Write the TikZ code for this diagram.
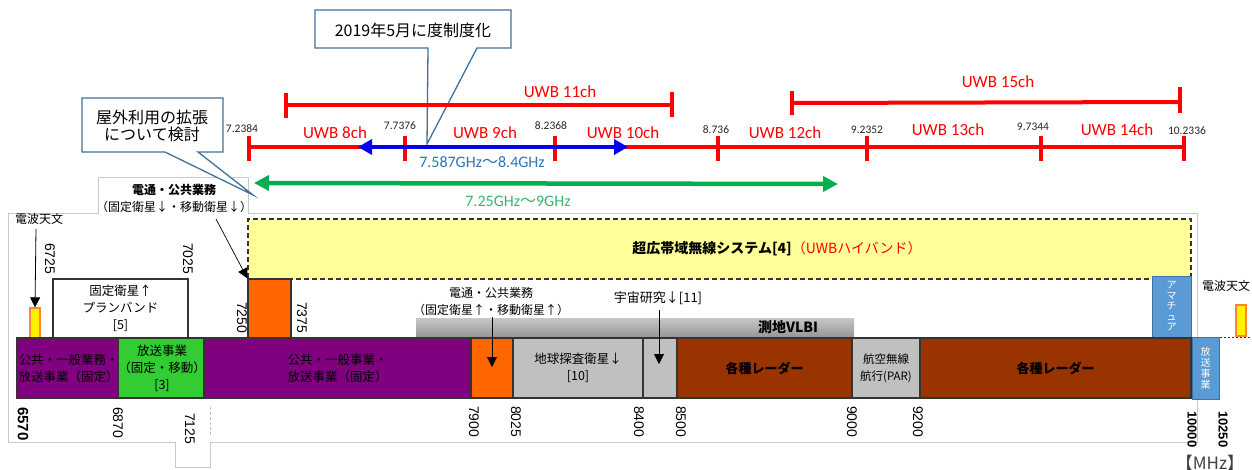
\documentclass[tikz,border=0pt]{standalone}
\usepackage{fontspec}
\setmainfont{Noto Sans CJK JP}
\newfontfamily\calfont{Carlito}
\newfontfamily\arialfont{Liberation Sans}
\usetikzlibrary{arrows.meta}
\newcommand\fsz[2]{\fontsize{#1pt}{#2pt}\selectfont}
\definecolor{ppl}{HTML}{800080}
\definecolor{grn}{HTML}{33CC33}
\definecolor{org}{HTML}{FF6600}
\definecolor{lgry}{HTML}{C0C0C0}
\definecolor{brn}{HTML}{993300}
\definecolor{bblue}{HTML}{5B9BD5}
\definecolor{bbord}{HTML}{41719C}
\definecolor{ylw}{HTML}{FFFF99}
\definecolor{cblue}{HTML}{41719C}
\definecolor{arrgreen}{HTML}{00B050}
\definecolor{txtgreen}{HTML}{3CB371}
\definecolor{txtblue}{HTML}{2E75B6}
\definecolor{arrblue}{HTML}{0000F0}
\definecolor{ured}{HTML}{FF0000}
\definecolor{frm}{HTML}{C8C8C8}
\begin{document}
\begin{tikzpicture}[x=1pt,y=-1pt,
  redline/.style={draw=ured, line width=4pt},
  redtick/.style={draw=ured, line width=3.5pt},
  uwb/.style={text=ured, font=\calfont\fsz{17}{20}, inner sep=0pt},
  freq/.style={text=black!85, font=\calfont\fsz{11.5}{13}, inner sep=0pt},
  bandbox/.style={draw=black!80, line width=1.2pt, minimum height=60pt, inner sep=0pt, align=center, font=\fsz{12.5}{17}},
  upbox/.style={draw=black!80, line width=1.2pt, inner sep=0pt, align=center},
  numlab/.style={font=\arialfont\fsz{14}{16}, rotate=-90, anchor=west, inner sep=0pt},
  bnumlab/.style={font=\arialfont\bfseries\fsz{15}{17}, rotate=-90, anchor=west, inner sep=0pt},
  calloutbox/.style={draw=cblue, line width=1.3pt, fill=white, line join=miter},
  ptarrow/.style={draw=black, line width=0.8pt, -{Triangle[length=10pt,width=10pt]}},
  framelinestyle/.style={draw=frm, line width=0.9pt},
  plain/.style={inner sep=0pt, align=center}
]
\useasboundingbox (0,0) rectangle (1252,470);
\fill[white] (0,0) rectangle (1252,470);

% light frame of the original picture
\draw[framelinestyle] (8,442) -- (8,213) -- (98,213) -- (98,177) -- (248,177) -- (248,213) -- (1197,213) -- (1197,442) -- (210,442) -- (210,467) -- (175,467) -- (175,442) -- cycle;

% ---------- callouts ----------
\draw[calloutbox] (428,48) -- (315,48) -- (315,10) -- (511,10) -- (511,48) -- (477,48) -- (427,144) -- cycle;
\node[plain, font=\fsz{16}{18}] (c1) at (413,30) {2019年5月に度制度化};
\draw[calloutbox] (165,152) -- (82,152) -- (82,98) -- (223,98) -- (223,152) -- (198,152) -- (253,195) -- cycle;
\node[plain, font=\fsz{16}{17.5}] (c2) at (152,126) {屋外利用の拡張\\について検討};

% ---------- UWB row 1 ----------
\coordinate (a1) at (286,105);
\coordinate (a2) at (672,105);
\draw[redline] (a1) -- (a2);
\draw[redtick] (a1) ++(0,-12) -- ++(0,25);
\draw[redtick] (a2) ++(0,-13) -- ++(0,25);
\node[uwb] (u11) at (560,92) {UWB 11ch};
\coordinate (a3) at (792,103);
\coordinate (a4) at (1180,102);
\draw[redline] (a3) -- (a4);
\draw[redtick] (a3) ++(0,-12) -- ++(0,24);
\draw[redtick] (a4) ++(0,-15) -- ++(0,26);
\node[uwb] (u15) at (998,82) {UWB 15ch};

% ---------- UWB row 2 ----------
\coordinate (t1) at (249,147);
\coordinate (t2) at (405,147);
\coordinate (t3) at (555,147);
\coordinate (t4) at (718,147);
\coordinate (t5) at (867,147);
\coordinate (t6) at (1041,147);
\coordinate (t7) at (1184,147);
\draw[redline] (t1) -- (t7);
\foreach \t in {t1,t2,t3,t4,t5,t6,t7} {\draw[redtick] (\t) ++(0,-11) -- ++(0,25);}
\node[freq] (f1) at (242,129) {7.2384};
\node[freq] (f2) at (400,126) {7.7376};
\node[freq] (f3) at (551,126) {8.2368};
\node[freq] (f4) at (716,130) {8.736};
\node[freq] (f5) at (867,130) {9.2352};
\node[freq] (f6) at (1033,127) {9.7344};
\node[freq] (f7) at (1187,131) {10.2336};
\node[uwb] (u8) at (335,133) {UWB 8ch};
\node[uwb] (u9) at (485,133) {UWB 9ch};
\node[uwb] (u10) at (623,133) {UWB 10ch};
\node[uwb] (u12) at (785,133) {UWB 12ch};
\node[uwb] (u13) at (948,130) {UWB 13ch};
\node[uwb] (u14) at (1117,130) {UWB 14ch};

% blue arrow
\coordinate (bl1) at (358,147);
\coordinate (bl2) at (628,147);
\draw[draw=arrblue, line width=4pt, {Triangle[length=14pt,width=15pt]}-{Triangle[length=14pt,width=15pt]}] (bl1) -- (bl2);
\node[plain, text=txtblue, font=\fsz{16}{18}] (bt) at (482,162) {{\calfont 7.587GHz}～{\calfont 8.4GHz}};

% green arrow
\coordinate (g1) at (254,183);
\coordinate (g2) at (838,184);
\draw[draw=arrgreen, line width=4.5pt, {Triangle[length=15pt,width=15pt]}-{Triangle[length=15pt,width=15pt]}] (g1) -- (g2);
\node[plain, text=txtgreen, font=\fsz{16}{18}] (gt) at (518,201) {{\calfont 7.25GHz}～{\calfont 9GHz}};

% ---------- upper boxes ----------
\node[upbox, fill=ylw, dashed, dash pattern=on 5pt off 3pt, minimum width=943pt, minimum height=60pt] (uwbbox) at (719.5,249) {};
\node[plain, font=\fsz{14}{16}] (uwbtxt) at (777,249) {{\bfseries 超広帯域無線システム[4]}\textcolor{ured}{（UWBハイバンド）}};

\node[upbox, fill=white, minimum width=135pt, minimum height=59pt, font=\fsz{12.5}{17}] (fss) at (120.5,308.5) {固定衛星↑\\プランバンド\\{[5]}};
\node[upbox, fill=org, minimum width=43pt, minimum height=59pt] (o1) at (269.5,308.5) {};
\node[draw=bbord, line width=1pt, fill=bblue, minimum width=39pt, minimum height=61pt, inner sep=0pt, align=center, text=white, font=\fsz{10}{10.5}] (ama) at (1171.5,306.5) {ア\\マ\\チ\\ュ\\ア};
\node[inner sep=0pt, minimum width=438pt, minimum height=20pt, top color=black!22, bottom color=black!42] (vlbi) at (635,328) {};
\node[plain, font=\bfseries\fsz{14}{16}] (vlbit) at (788,327) {測地VLBI};

% radio astronomy marks
\node[draw=org!80, line width=1.3pt, fill=yellow, minimum width=10pt, minimum height=30pt, inner sep=0pt] (ra1) at (35,323) {};
\node[draw=org!80, line width=1.3pt, fill=yellow, minimum width=10pt, minimum height=31pt, inner sep=0pt] (ra2) at (1241,320.5) {};
\node[plain, font=\fsz{12}{14}] (ral1) at (39,219) {電波天文};
\node[plain, font=\fsz{12}{14}] (ral2) at (1226,286) {電波天文};
\coordinate (ra1top) at (36,229);
\draw[ptarrow] (ra1top) -- (ra1.north);
\coordinate (dl1) at (1132,337);
\coordinate (dl2) at (1252,337);
\draw[black!80, line width=0.9pt, dash pattern=on 2pt off 2pt] (dl1) -- (dl2);

% ---------- main band ----------
\node[bandbox, fill=ppl, minimum width=103pt] (b1) at (68.5,368) {公共・一般業務・\\放送事業（固定）};
\node[bandbox, fill=grn, minimum width=84pt] (b2) at (162,368) {放送事業\\（固定・移動）\\{[3]}};
\node[bandbox, fill=ppl, minimum width=267pt] (b3) at (337.5,368) {公共・一般事業・\\放送事業（固定）};
\node[bandbox, fill=org, minimum width=42pt] (b4) at (492,368) {};
\node[bandbox, fill=lgry, minimum width=130pt] (b5) at (578,368) {地球探査衛星↓\\{[10]}};
\node[bandbox, fill=lgry, minimum width=34pt] (b6) at (660,368) {};
\node[bandbox, fill=brn, minimum width=175pt, font=\bfseries\fsz{13}{16}] (b7) at (764.5,368) {各種レーダー};
\node[bandbox, fill=lgry, minimum width=68pt, font=\fsz{11.5}{17}] (b8) at (886,368) {航空無線\\航行(PAR)};
\node[bandbox, fill=brn, minimum width=271pt, font=\bfseries\fsz{13}{16}] (b9) at (1055.5,368) {各種レーダー};
\node[draw=bbord, line width=1pt, fill=bblue, minimum width=27pt, minimum height=62pt, inner sep=0pt, align=center, text=white, font=\fsz{10}{11}] (b10) at (1205.5,368) {放\\送\\事\\業};

% ---------- labels with arrows ----------
\node[plain, font=\fsz{12}{17}] (tl) at (174,198.5) {{\bfseries 電通・公共業務}\\（固定衛星↓・移動衛星↓）};
\coordinate (tla) at (216,219);
\draw[ptarrow, line width=0.7pt] (tla) -- (o1.north west);
\node[plain, font=\fsz{12}{17}] (ml) at (491,301.5) {電通・公共業務\\（固定衛星↑・移動衛星↑）};
\coordinate (mla) at (492,317);
\coordinate (mlb) at (492,367);
\draw[ptarrow] (mla) -- (mlb);
\node[plain, font=\fsz{13}{15}] (sr) at (658,298) {宇宙研究↓[11]};
\coordinate (sra) at (659,310);
\coordinate (srb) at (659,364);
\draw[ptarrow] (sra) -- (srb);

% ---------- frequency numbers ----------
\node[numlab] (n6725) at (50,243) {6725};
\node[numlab] (n7025) at (188,243) {7025};
\node[numlab] (n7250) at (242,302) {7250};
\node[numlab] (n7375) at (302,302) {7375};
\node[bnumlab] (n6570) at (23,407) {6570};
\node[numlab] (n6870) at (118,407) {6870};
\node[numlab] (n7125) at (190,413) {7125};
\node[numlab] (n7900) at (474,406) {7900};
\node[numlab] (n8025) at (516,406) {8025};
\node[numlab] (n8400) at (639,406) {8400};
\node[numlab] (n8500) at (681,406) {8500};
\node[numlab] (n9000) at (852,406) {9000};
\node[numlab] (n9200) at (918,406) {9200};
\node[bnumlab, font=\arialfont\bfseries\fsz{13}{15}] (n10000) at (1192,411) {10000};
\node[bnumlab, font=\arialfont\bfseries\fsz{13}{15}] (n10250) at (1223,411) {10250};
\coordinate (lb1) at (210,407);
\coordinate (lb2) at (210,437);
\draw[draw=txtblue!40, line width=0.9pt, dash pattern=on 3pt off 2pt] (lb1) -- (lb2);
\node[plain, text=black!75, font=\fsz{17}{19}] (mhz) at (1210,463) {【MHz】};
\end{tikzpicture}
\end{document}
